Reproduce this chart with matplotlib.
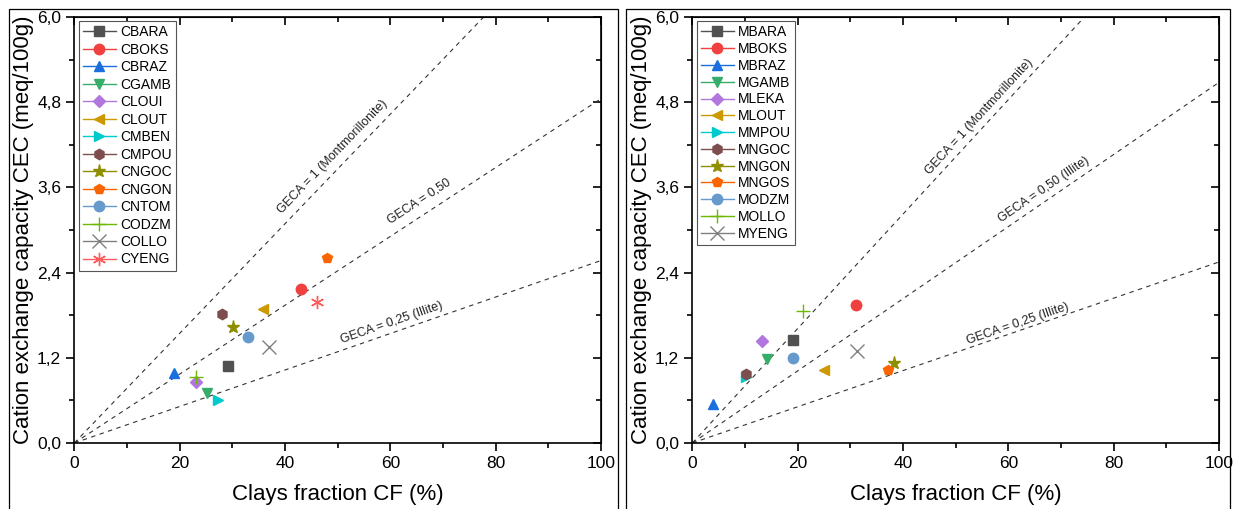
import matplotlib.pyplot as plt
import numpy as np
from matplotlib.patches import Rectangle
from matplotlib.ticker import MultipleLocator, FuncFormatter

plt.rcParams['font.family'] = ['Liberation Sans', 'DejaVu Sans']

'''
CEC vs clay fraction for the C and M samples, with GECA reference lines
'''

# left panel samples
c_names = ['CBARA', 'CBOKS', 'CBRAZ', 'CGAMB', 'CLOUI', 'CLOUT', 'CMBEN',
           'CMPOU', 'CNGOC', 'CNGON', 'CNTOM', 'CODZM', 'COLLO', 'CYENG']
c_cf = [29.1, 43.0, 18.9, 25.1, 23.1, 35.9, 27.3, 28.1, 30.1, 48.0, 33.0, 23.1, 37.0, 46.0]
c_cec = [1.09, 2.17, 0.99, 0.71, 0.86, 1.89, 0.60, 1.82, 1.63, 2.61, 1.49, 0.93, 1.35, 1.98]

# right panel samples
m_names = ['MBARA', 'MBOKS', 'MBRAZ', 'MGAMB', 'MLEKA', 'MLOUT', 'MMPOU',
           'MNGOC', 'MNGON', 'MNGOS', 'MODZM', 'MOLLO', 'MYENG']
m_cf = [19.2, 31.1, 4.0, 14.1, 13.2, 24.9, 10.2, 10.1, 38.2, 37.1, 19.2, 21.1, 31.2]
m_cec = [1.45, 1.94, 0.55, 1.18, 1.43, 1.03, 0.93, 0.97, 1.13, 1.03, 1.19, 1.86, 1.30]

# GECA lines: CEC value reached at CF = 100 %
c_geca_labels = ['GECA = 1 (Montmorillonite)', 'GECA = 0,50', 'GECA = 0,25 (Illite)']
c_geca_end = [7.72, 4.85, 2.57]
m_geca_labels = ['GECA = 1 (Montmorillonite)', 'GECA = 0,50 (Illite)', 'GECA = 0,25 (Illite)']
m_geca_end = [8.06, 5.08, 2.55]

# where the line labels sit (data coords)
c_label_pos = [(49.1, 4.03), (65.4, 3.40), (60.2, 1.69)]
m_label_pos = [(54.4, 4.60), (66.8, 3.56), (61.8, 1.68)]

# Origin-like palette and symbols
c_colors = ['#515151', '#F14040', '#1A6FDF', '#37AD6B', '#B177DE', '#CC9900', '#00CBCC',
            '#7D4E4E', '#8E8E00', '#FB6501', '#6699CC', '#6FB802', '#808080', '#FF5C5C']
c_markers = ['s', 'o', '^', 'v', 'D', '<', '>', 'h', '*', 'p', 'o', '+', 'x', (6, 2, 0)]
m_colors = ['#515151', '#F14040', '#1A6FDF', '#37AD6B', '#B177DE', '#CC9900', '#00CBCC',
            '#7D4E4E', '#8E8E00', '#FB6501', '#6699CC', '#6FB802', '#808080']
m_markers = ['s', 'o', '^', 'v', 'D', '<', '>', 'h', '*', 'p', 'o', '+', 'x']


def comma(v, pos):
    return ('%.1f' % v).replace('.', ',')


def draw_panel(ax, names, cf, cec, colors, markers, geca_labels, geca_end, label_pos, spacing):
    x = np.array([0, 100])
    for end in geca_end:
        ax.plot(x, x * end / 100.0, color='#333333', lw=0.8, ls=(0, (4, 4)), zorder=1)
    for lab, end, pos in zip(geca_labels, geca_end, label_pos):
        ang = np.degrees(np.arctan(end / 100.0))
        ax.text(pos[0], pos[1], lab, fontsize=9, color='#222222', rotation=ang,
                rotation_mode='anchor', transform_rotates_text=True,
                ha='center', va='center')

    for n, xv, yv, c, m in zip(names, cf, cec, colors, markers):
        size = 7.5
        if m == 'D':
            size = 6.5
        elif m in ['+', 'x', '*'] or isinstance(m, tuple):
            size = 9.5
        ax.plot([xv], [yv], '-', marker=m, color=c, markersize=size, mec=c,
                mew=1.0, lw=1.0, label=n, zorder=3)

    ax.set_xlim(0, 100)
    ax.set_ylim(0, 6)
    ax.xaxis.set_major_locator(MultipleLocator(20))
    ax.xaxis.set_minor_locator(MultipleLocator(10))
    ax.yaxis.set_major_locator(MultipleLocator(1.2))
    ax.yaxis.set_minor_locator(MultipleLocator(0.6))
    ax.yaxis.set_major_formatter(FuncFormatter(comma))
    ax.tick_params(which='major', direction='out', length=6, width=1.2, labelsize=12.5)
    ax.tick_params(which='minor', direction='out', length=3.5, width=1.2)
    for s in ax.spines.values():
        s.set_linewidth(1.2)

    # mirrored ticks on top and right point inward
    top = ax.secondary_xaxis('top')
    top.xaxis.set_major_locator(MultipleLocator(20))
    top.xaxis.set_minor_locator(MultipleLocator(10))
    top.tick_params(which='major', direction='in', length=6, width=1.2, labeltop=False)
    top.tick_params(which='minor', direction='in', length=3.5, width=1.2)
    right = ax.secondary_yaxis('right')
    right.yaxis.set_major_locator(MultipleLocator(1.2))
    right.yaxis.set_minor_locator(MultipleLocator(0.6))
    right.tick_params(which='major', direction='in', length=6, width=1.2, labelright=False)
    right.tick_params(which='minor', direction='in', length=3.5, width=1.2)

    ax.set_xlabel('Clays fraction CF (%)', fontsize=16, labelpad=9)
    ax.set_ylabel('Cation exchange capacity CEC (meq/100g)', fontsize=16, labelpad=2)
    leg = ax.legend(loc='upper left', fontsize=10, handlelength=2.4, labelspacing=spacing,
                    borderpad=0.3, handletextpad=0.3, borderaxespad=0.3,
                    fancybox=False, framealpha=1, edgecolor='#555555')
    leg.get_frame().set_linewidth(0.8)


fig = plt.figure(figsize=(12.39, 5.09), dpi=100)

# panel frames
fig.patches.append(Rectangle((9 / 1239, -0.1), 609 / 1239, 1.1 - 9 / 509, transform=fig.transFigure,
                             fill=False, lw=0.9, ec='black'))
fig.patches.append(Rectangle((626 / 1239, -0.1), 604 / 1239, 1.1 - 9 / 509, transform=fig.transFigure,
                             fill=False, lw=0.9, ec='black'))

ax1 = fig.add_axes([0.0600, 0.1297, 0.4251, 0.8369])
ax2 = fig.add_axes([0.5588, 0.1297, 0.4251, 0.8369])

draw_panel(ax1, c_names, c_cf, c_cec, c_colors, c_markers, c_geca_labels, c_geca_end,
           c_label_pos, 0.25)
draw_panel(ax2, m_names, m_cf, m_cec, m_colors, m_markers, m_geca_labels, m_geca_end,
           m_label_pos, 0.2)

fig.savefig('out.png', dpi=100)
